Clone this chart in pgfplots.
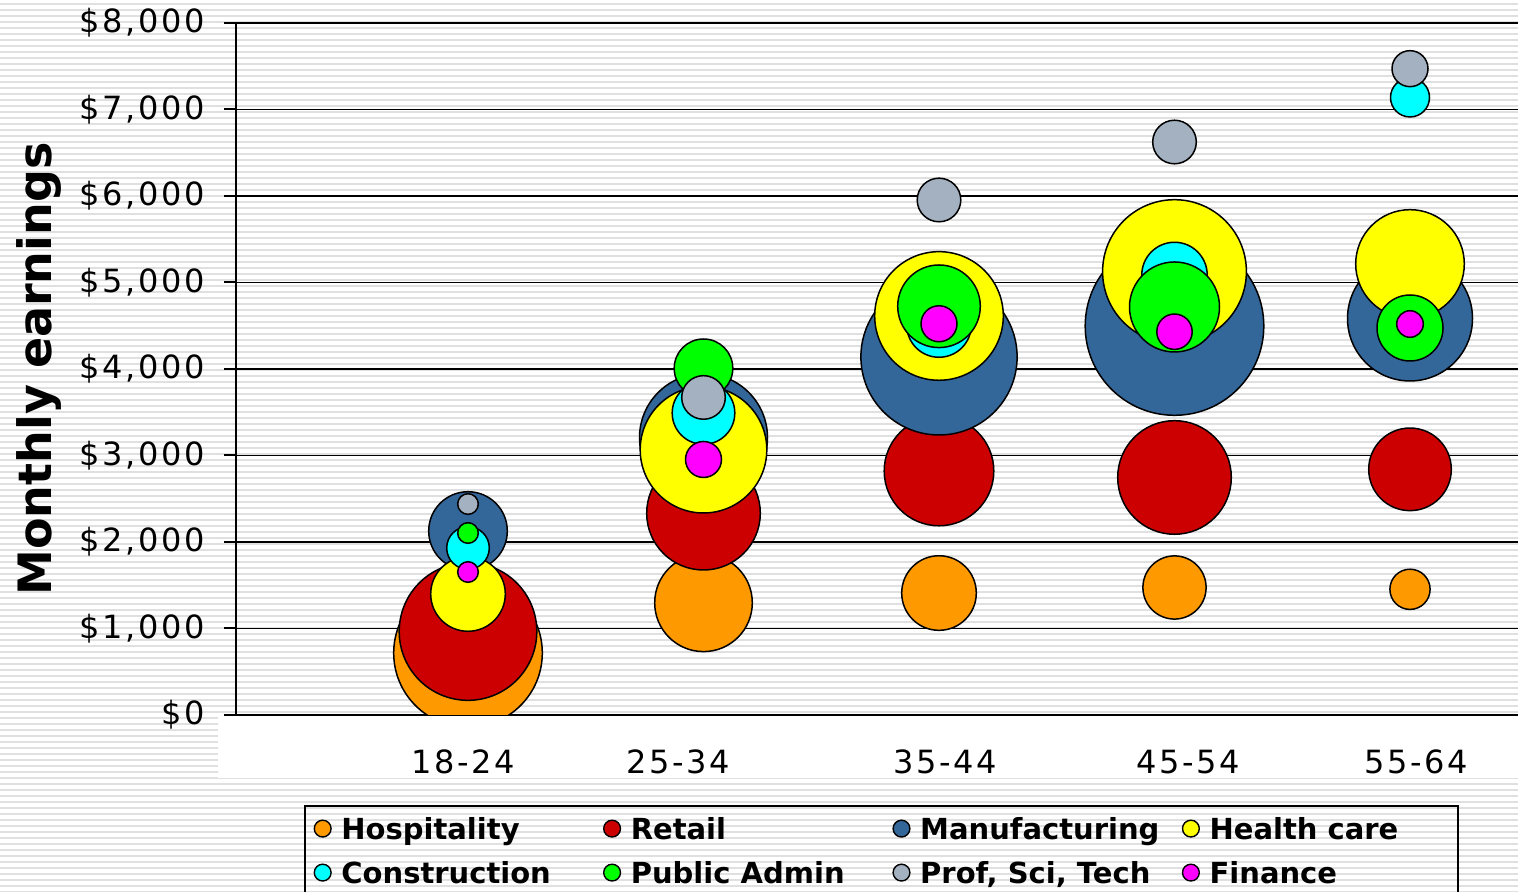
\documentclass[border=0pt]{standalone}
\usepackage{fontspec}
\setmainfont{DejaVu Sans}
\newfontfamily\tickfont[LetterSpace=8]{DejaVu Sans}
\usepackage{pgfplots}
\usepackage{pgfplotstable}
\pgfplotsset{compat=1.18}
\usetikzlibrary{patterns.meta}

\definecolor{hosp}{HTML}{FF9900}
\definecolor{retail}{HTML}{CC0000}
\definecolor{manuf}{HTML}{336699}
\definecolor{health}{HTML}{FFFF00}
\definecolor{constr}{HTML}{00FFFF}
\definecolor{pubadm}{HTML}{00FF00}
\definecolor{profsci}{HTML}{A3B1C0}
\definecolor{finance}{HTML}{FF00FF}
\definecolor{stripe}{HTML}{E0E0E0}

% x = age group (1..5), y = monthly earnings, r = bubble radius (px)
\pgfplotstableread{
x y r
1 717 75
2 1297 49.5
3 1410 38
4 1474 32.3
5 1453 20.8
}\hosp
\pgfplotstableread{
x y r
1 965 69.5
2 2333 57.5
3 2821 55.5
4 2746 57.5
5 2840 42
}\retail
\pgfplotstableread{
x y r
1 2127 40
2 3206 64.7
3 4140 78.8
4 4497 90
5 4584 63.2
}\manuf
\pgfplotstableread{
x y r
1 1399 38
2 3067 64
3 4613 65
4 5126 72.6
5 5214 55
}\health
\pgfplotstableread{
x y r
1 1931 22
2 3491 32
3 4509 33
4 5087 33.4
5 7139 20.2
}\constr
\pgfplotstableread{
x y r
1 2104 11
2 4008 30
3 4725 42
4 4717 45.7
5 4474 33.7
}\pubadm
\pgfplotstableread{
x y r
1 2439 11
2 3671 22.5
3 5954 22.5
4 6624 22.5
5 7472 18.7
}\profsci
\pgfplotstableread{
x y r
1 1653 11
2 2954 18.7
3 4523 18.7
4 4431 18.4
5 4520 14
}\finance

\pgfplotsset{
  bubble/.style={
    scatter, only marks, mark=*, forget plot,
    line width=0.75pt,
    scatter/use mapped color={draw=black, fill=#1},
    visualization depends on={0.5*\thisrow{r}-0.35 \as \rad},
    scatter/@pre marker code/.append style={/tikz/mark size=\rad},
  },
  legdot/.style={legend image code/.code={%
    \draw[black, line width=0.7pt, fill=#1] (0pt,0pt) circle (4.2pt);}},
}

\begin{document}
\begin{tikzpicture}
\useasboundingbox (0,0) rectangle (759pt,446pt);
\fill[white] (0,0) rectangle (759pt,446pt);
\fill[pattern={Lines[angle=0,distance=3pt,line width=0.9pt]}, pattern color=stripe]
  (0,0) rectangle (759pt,446pt);
\fill[white] (109pt,57pt) rectangle (759pt,88.5pt);

\begin{axis}[
  at={(118pt,88.5pt)}, anchor=south west,
  scale only axis, width=641pt, height=346pt,
  xmin=0.01486, xmax=5.4586, ymin=0, ymax=8000,
  axis x line*=bottom, axis y line*=left,
  axis line style={-, black, line width=1pt},
  tick pos=left,
  tick align=outside,
  xtick={0.979,1.892,3.026,4.057,5.026},
  xticklabels={18-24,25-34,35-44,45-54,55-64},
  x tick style={draw=none},
  xticklabel style={font=\tickfont\fontsize{16}{19}\selectfont, anchor=center, yshift=-17.5pt},
  ytick={0,1000,...,8000},
  yticklabels={{\$0},{\$1,000},{\$2,000},{\$3,000},{\$4,000},{\$5,000},{\$6,000},{\$7,000},{\$8,000}},
  y tick style={black, line width=1pt},
  major tick length=6pt,
  yticklabel style={font=\tickfont\fontsize{16}{19}\selectfont, anchor=east, inner sep=0pt, xshift=-9.5pt},
  ymajorgrids,
  grid style={black, line width=0.8pt},
  ylabel={Monthly earnings},
  ylabel style={font=\fontsize{23}{27}\selectfont\bfseries, at={(axis description cs:-0.1534,0.5)}, anchor=center},
  clip marker paths=true,
  legend columns=4,
  legend style={
    at={(axis description cs:0.05304,-0.13006)}, anchor=north west,
    draw=black, line width=1pt, fill=none,
    font=\fontsize{14.5}{17}\selectfont\bfseries,
    inner xsep=4.3pt, inner ysep=4pt,
    column sep=0pt, row sep=7.4pt,
    nodes={inner sep=0pt, text height=12.6pt, text depth=2pt},
    /tikz/every odd column/.append style={column sep=4.8pt},
  },
]

\addlegendimage{legdot=hosp}
\addlegendentry{\makebox[130.8pt][l]{Hospitality}}
\addlegendimage{legdot=retail}
\addlegendentry{\makebox[130.8pt][l]{Retail}}
\addlegendimage{legdot=manuf}
\addlegendentry{\makebox[130.8pt][l]{Manufacturing}}
\addlegendimage{legdot=health}
\addlegendentry{\makebox[120pt][l]{Health care}}
\addlegendimage{legdot=constr}
\addlegendentry{\makebox[130.8pt][l]{Construction}}
\addlegendimage{legdot=pubadm}
\addlegendentry{\makebox[130.8pt][l]{Public Admin}}
\addlegendimage{legdot=profsci}
\addlegendentry{\makebox[130.8pt][l]{Prof, Sci, Tech}}
\addlegendimage{legdot=finance}
\addlegendentry{\makebox[120pt][l]{Finance}}

\addplot[bubble=hosp] table {\hosp};
\addplot[bubble=retail] table {\retail};
\addplot[bubble=manuf] table {\manuf};
\addplot[bubble=health] table {\health};
\addplot[bubble=constr] table {\constr};
\addplot[bubble=pubadm] table {\pubadm};
\addplot[bubble=profsci] table {\profsci};
\addplot[bubble=finance] table {\finance};

\end{axis}
\end{tikzpicture}
\end{document}
